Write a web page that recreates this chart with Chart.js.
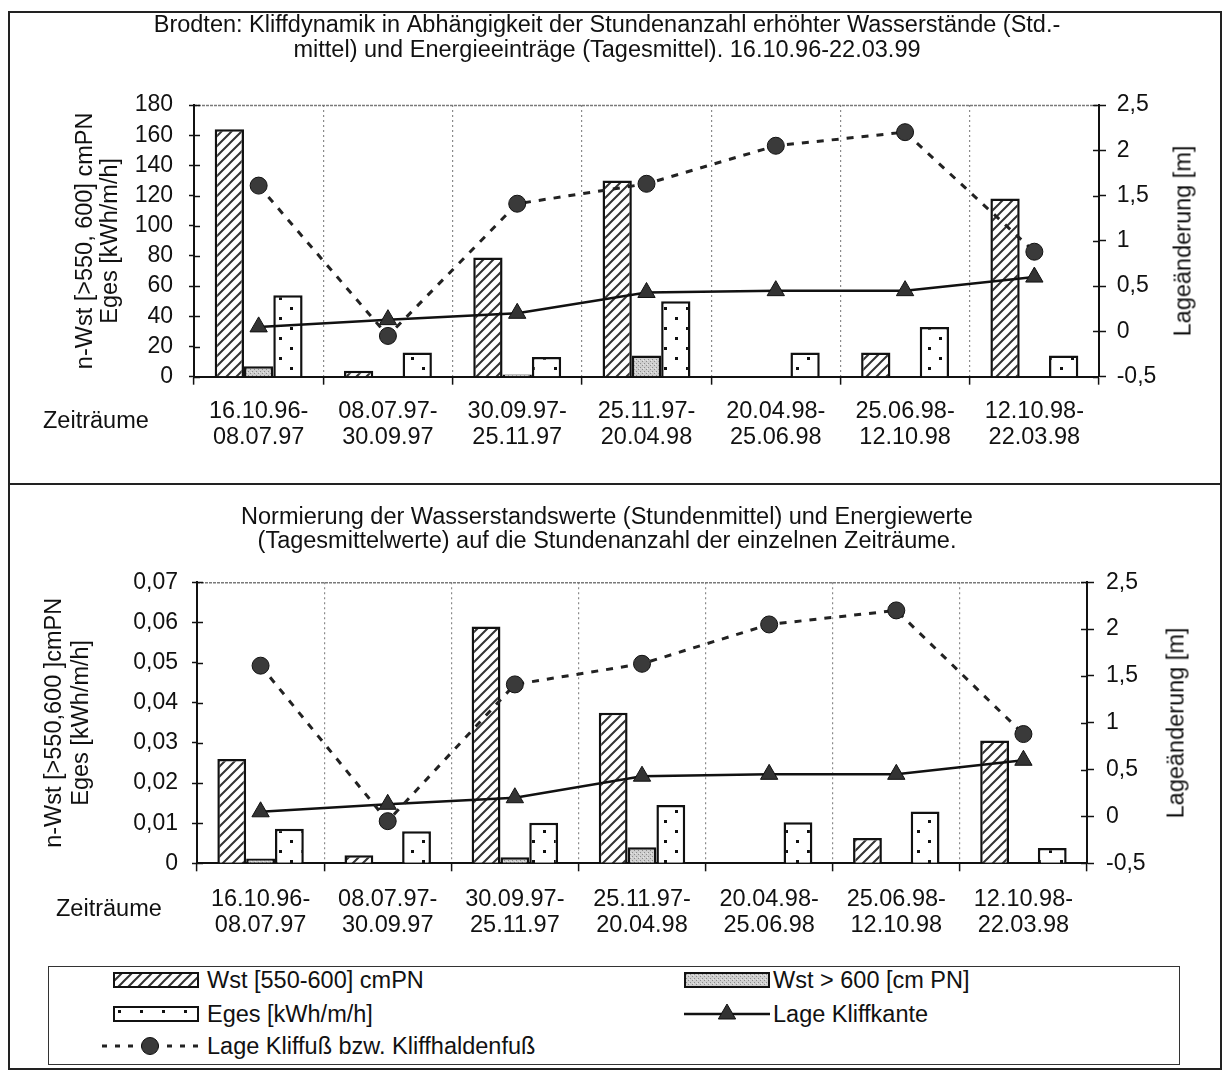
<!DOCTYPE html>
<html>
<head>
<meta charset="utf-8">
<script src="https://cdn.jsdelivr.net/npm/chart.js@4.4.0/dist/chart.umd.min.js"></script>
<style>
html,body{margin:0;padding:0;background:#fff;}
body{width:1225px;height:1071px;position:relative;overflow:hidden;font-family:"Liberation Sans",Arial,sans-serif;color:#111;}
#frame{position:absolute;left:8px;top:11px;width:1210px;height:1055px;border:2px solid #222;}
#sep{position:absolute;left:8px;top:483px;width:1214px;height:2px;background:#222;}
canvas.chart{position:absolute;}
.rt{position:absolute;font-size:23.5px;white-space:nowrap;transform:translate(-50%,-50%) rotate(-90deg);}
.zr{position:absolute;font-size:23.5px;line-height:26px;white-space:nowrap;}
#legend{position:absolute;left:48px;top:966px;width:1130px;height:97px;border:1.5px solid #333;}
.sw{position:absolute;}
.lt{position:absolute;font-size:23.5px;line-height:26px;white-space:nowrap;}
</style>
</head>
<body>
<div id="frame"></div>
<div id="sep"></div>
<canvas id="c1" class="chart" width="1209" height="470" style="left:10px;top:13px;width:1209px;height:470px;"></canvas>
<canvas id="c2" class="chart" width="1209" height="460" style="left:10px;top:486px;width:1209px;height:460px;"></canvas>
<div class="zr" style="left:43px;top:407px;">Zeiträume</div>
<div class="zr" style="left:56px;top:895px;">Zeiträume</div>
<div class="rt" style="left:1183px;top:241px;">Lageänderung [m]</div>
<div class="rt" style="left:1176px;top:723px;">Lageänderung [m]</div>
<div id="legend"></div>
<canvas id="s1" class="sw" width="86" height="16" style="left:113px;top:972px;"></canvas>
<div class="lt" style="left:207px;top:967px;">Wst [550-600] cmPN</div>
<canvas id="s2" class="sw" width="86" height="16" style="left:684px;top:972px;"></canvas>
<div class="lt" style="left:773px;top:967px;">Wst &gt; 600 [cm PN]</div>
<canvas id="s3" class="sw" width="86" height="16" style="left:113px;top:1006px;"></canvas>
<div class="lt" style="left:207px;top:1001px;">Eges [kWh/m/h]</div>
<canvas id="s4" class="sw" width="86" height="24" style="left:684px;top:1002px;"></canvas>
<div class="lt" style="left:773px;top:1001px;">Lage Kliffkante</div>
<canvas id="s5" class="sw" width="100" height="24" style="left:100px;top:1034px;"></canvas>
<div class="lt" style="left:207px;top:1033px;">Lage Kliffuß bzw. Kliffhaldenfuß</div>
<script>
// ---------- data ----------
const categories = [
  ["16.10.96-","08.07.97"],["08.07.97-","30.09.97"],["30.09.97-","25.11.97"],
  ["25.11.97-","20.04.98"],["20.04.98-","25.06.98"],["25.06.98-","12.10.98"],
  ["12.10.98-","22.03.98"]
];
const titleTop = ["Brodten: Kliffdynamik in Abhängigkeit der Stundenanzahl erhöhter Wasserstände (Std.-",
                  "mittel) und Energieeinträge (Tagesmittel). 16.10.96-22.03.99"];
const titleBottom = ["Normierung der Wasserstandswerte (Stundenmittel) und Energiewerte",
                     "(Tagesmittelwerte) auf die Stundenanzahl der einzelnen Zeiträume."];
const yTitleTop = ["n-Wst [>550, 600] cmPN","Eges [kWh/m/h]"];
const yTitleBottom = ["n-Wst [>550,600 ]cmPN","Eges [kWh/m/h]"];

// top chart (absolute values)
const wstTop    = [164, 4, 79, 130, 0, 16, 118];
const wst600Top = [7, 0, 1.5, 14, 0, 0, 0];
const egesTop   = [54, 16, 13, 50, 16, 33, 14];
// bottom chart (normalised values)
const wstBottom    = [0.026, 0.002, 0.059, 0.0375, 0, 0.0063, 0.0306];
const wst600Bottom = [0.0012, 0, 0.0015, 0.004, 0, 0, 0];
const egesBottom   = [0.0086, 0.008, 0.0101, 0.0145, 0.0102, 0.0129, 0.0038];
// position changes [m] (right axis)
const lageKliffkante = [0.05, 0.13, 0.2, 0.43, 0.45, 0.45, 0.6];
const lageKliffuss   = [1.61, -0.05, 1.41, 1.63, 2.05, 2.2, 0.88];

const leftAxisTop    = {min: 0, max: 180, step: 20};
const leftAxisBottom = {min: 0, max: 0.07, step: 0.01};
const rightAxis      = {min: -0.5, max: 2.5, step: 0.5};

// ---------- patterns ----------
function makePattern(w, h, draw) {
  const c = document.createElement('canvas'); c.width = w; c.height = h;
  const g = c.getContext('2d'); draw(g, w, h);
  return g.createPattern(c, 'repeat');
}
const hatch = makePattern(10, 10, (g, w, h) => {
  g.fillStyle = '#fff'; g.fillRect(0, 0, w, h);
  g.strokeStyle = '#333'; g.lineWidth = 2;
  g.beginPath();
  g.moveTo(-2, h + 2); g.lineTo(w + 2, -2);
  g.moveTo(-2, 2); g.lineTo(2, -2);
  g.moveTo(w - 2, h + 2); g.lineTo(w + 2, h - 2);
  g.stroke();
});
const gray = makePattern(4, 4, (g, w, h) => {
  g.fillStyle = '#cfcfcf'; g.fillRect(0, 0, w, h);
  g.fillStyle = '#8c8c8c'; g.fillRect(0, 0, 1, 1); g.fillRect(2, 2, 1, 1);
  g.fillStyle = '#e8e8e8'; g.fillRect(1, 3, 1, 1);
});
const dots = makePattern(22, 20, (g, w, h) => {
  g.fillStyle = '#fff'; g.fillRect(0, 0, w, h);
  g.fillStyle = '#111';
  g.fillRect(5, 4, 3, 3); g.fillRect(16, 14, 3, 3);
});

// ---------- chart helpers ----------
Chart.defaults.font.family = '"Liberation Sans", Arial, sans-serif';
Chart.defaults.font.size = 23;
Chart.defaults.color = '#111';

const framePlugin = {
  id: 'frameExtras',
  beforeDatasetsDraw(chart) {
    const {ctx, chartArea: a} = chart;
    ctx.save();
    ctx.strokeStyle = '#7a7a7a'; ctx.lineWidth = 1.5; ctx.setLineDash([3, 1]);
    ctx.beginPath(); ctx.moveTo(a.left, a.top + 0.5); ctx.lineTo(a.right, a.top + 0.5); ctx.stroke();
    ctx.setLineDash([]); ctx.strokeStyle = '#111'; ctx.lineWidth = 1.5;
    ['y', 'y1'].forEach(id => {
      const s = chart.scales[id];
      const x = id === 'y' ? a.left : a.right;
      const dir = id === 'y' ? 1 : -1;
      s.ticks.forEach(t => {
        const y = Math.round(s.getPixelForValue(t.value)) + 0.5;
        ctx.beginPath(); ctx.moveTo(x, y); ctx.lineTo(x + dir * 6, y); ctx.stroke();
      });
    });
    ctx.restore();
  }
};

function comma(v, dec) {
  if (Math.abs(v) < 1e-9) return '0';
  return (dec ? v.toFixed(dec) : String(v)).replace('.', ',');
}

function buildChart(id, o) {
  const datasets = [
    {type: 'line', label: 'Lage Kliffuß bzw. Kliffhaldenfuß', data: lageKliffuss, yAxisID: 'y1', order: 0,
     borderColor: '#222', borderWidth: 3, borderDash: [7, 8], tension: 0, fill: false,
     pointStyle: 'circle', pointRadius: 8.5, pointBackgroundColor: '#3a3a3a', pointBorderColor: '#111', pointBorderWidth: 1},
    {type: 'line', label: 'Lage Kliffkante', data: lageKliffkante, yAxisID: 'y1', order: 1,
     borderColor: '#111', borderWidth: 2.5, tension: 0, fill: false,
     pointStyle: 'triangle', pointRadius: 10, pointBackgroundColor: '#333', pointBorderColor: '#111', pointBorderWidth: 1},
    {type: 'bar', label: 'Wst [550-600] cmPN', data: o.wst, yAxisID: 'y', order: 2,
     backgroundColor: hatch, borderColor: '#111', borderWidth: 2.5, categoryPercentage: 0.68, barPercentage: 1},
    {type: 'bar', label: 'Wst > 600 [cm PN]', data: o.wst600, yAxisID: 'y', order: 2,
     backgroundColor: gray, borderColor: '#111', borderWidth: 2.5, categoryPercentage: 0.68, barPercentage: 1},
    {type: 'bar', label: 'Eges [kWh/m/h]', data: o.eges, yAxisID: 'y', order: 2,
     backgroundColor: dots, borderColor: '#111', borderWidth: 2.5, categoryPercentage: 0.68, barPercentage: 1}
  ];
  return new Chart(document.getElementById(id), {
    type: 'bar',
    data: {labels: categories, datasets},
    plugins: [framePlugin],
    options: {
      responsive: false, animation: false, devicePixelRatio: 1,
      layout: {padding: {left: 0, right: 15, top: 0, bottom: 0}},
      plugins: {
        legend: {display: false}, tooltip: {enabled: false},
        title: {display: true, text: o.title, color: '#111',
                font: {size: 23.5, weight: 'normal', lineHeight: o.titleLH},
                padding: o.titlePad}
      },
      scales: {
        x: {
          type: 'category', offset: true,
          grid: {offset: true, drawOnChartArea: true,
                 color: c => (c.index === 0 || c.index >= categories.length) ? 'rgba(0,0,0,0)' : '#8a8a8a',
                 lineWidth: 1.2, borderDash: [2, 3], tickLength: 8, tickColor: '#111', tickWidth: 1.5, tickBorderDash: []},
          border: {color: '#111', width: 2, dash: [2, 3]},
          ticks: {padding: o.xPad, maxRotation: 0, autoSkip: false, font: {size: 23.5, lineHeight: '26px'}},
          afterFit: s => { s.height = o.xH; }
        },
        y: {
          position: 'left', min: o.left.min, max: o.left.max,
          ticks: {stepSize: o.left.step, padding: o.yPad, autoSkip: false, font: {size: 23},
                  callback: v => comma(v, o.dec)},
          grid: {drawOnChartArea: false, tickLength: 5, tickColor: '#111', tickWidth: 1.5},
          border: {color: '#111', width: 2, z: 1},
          title: {display: true, text: o.yTitle, color: '#111',
                  font: {size: 23.5, lineHeight: o.yTitleLH}, padding: {top: o.yTitlePad, bottom: 0}},
          afterFit: s => { s.width = o.yW; }
        },
        y1: {
          position: 'right', min: rightAxis.min, max: rightAxis.max,
          ticks: {stepSize: rightAxis.step, padding: o.y1Pad, autoSkip: false, font: {size: 23},
                  callback: v => comma(v, 0)},
          grid: {drawOnChartArea: false, tickLength: 7, tickColor: '#111', tickWidth: 1.5},
          border: {color: '#111', width: 2, z: 1},
          afterFit: s => { s.width = o.y1W; }
        }
      }
    }
  });
}

buildChart('c1', {
  title: titleTop, titleLH: '25px', titlePad: {top: 0, bottom: 42},
  wst: wstTop, wst600: wst600Top, eges: egesTop,
  left: leftAxisTop, dec: 0,
  yTitle: yTitleTop, yTitleLH: '25px', yTitlePad: 63.5,
  yW: 184, y1W: 105, xH: 106.3, xPad: 14.3, yPad: 16, y1Pad: 10.7
});
buildChart('c2', {
  title: titleBottom, titleLH: '24px', titlePad: {top: 20, bottom: 28.3},
  wst: wstBottom, wst600: wst600Bottom, eges: egesBottom,
  left: leftAxisBottom, dec: 2,
  yTitle: yTitleBottom, yTitleLH: '27px', yTitlePad: 31.5,
  yW: 187, y1W: 117, xH: 82.7, xPad: 15.7, yPad: 14, y1Pad: 12
});

// ---------- legend swatches ----------
function boxSwatch(id, pat) {
  const c = document.getElementById(id), g = c.getContext('2d');
  g.fillStyle = pat; g.fillRect(1, 1, c.width - 2, c.height - 2);
  g.strokeStyle = '#111'; g.lineWidth = 2; g.strokeRect(1, 1, c.width - 2, c.height - 2);
}
boxSwatch('s1', hatch); boxSwatch('s2', gray); boxSwatch('s3', dots);
(function () {
  const c = document.getElementById('s4'), g = c.getContext('2d');
  g.strokeStyle = '#111'; g.lineWidth = 2.5;
  g.beginPath(); g.moveTo(0, 12); g.lineTo(c.width, 12); g.stroke();
  const x = c.width / 2, y = 12, r = 10;
  g.fillStyle = '#333'; g.beginPath();
  g.moveTo(x, y - r); g.lineTo(x + r * 0.866, y + r / 2); g.lineTo(x - r * 0.866, y + r / 2); g.closePath();
  g.fill(); g.lineWidth = 1; g.stroke();
})();
(function () {
  const c = document.getElementById('s5'), g = c.getContext('2d');
  g.strokeStyle = '#222'; g.lineWidth = 3; g.setLineDash([5, 8]);
  g.beginPath(); g.moveTo(2, 12); g.lineTo(c.width, 12); g.stroke();
  g.setLineDash([]);
  g.fillStyle = '#3a3a3a'; g.beginPath(); g.arc(50, 12, 8.5, 0, Math.PI * 2); g.fill();
  g.strokeStyle = '#111'; g.lineWidth = 1; g.stroke();
})();
</script>
</body>
</html>
